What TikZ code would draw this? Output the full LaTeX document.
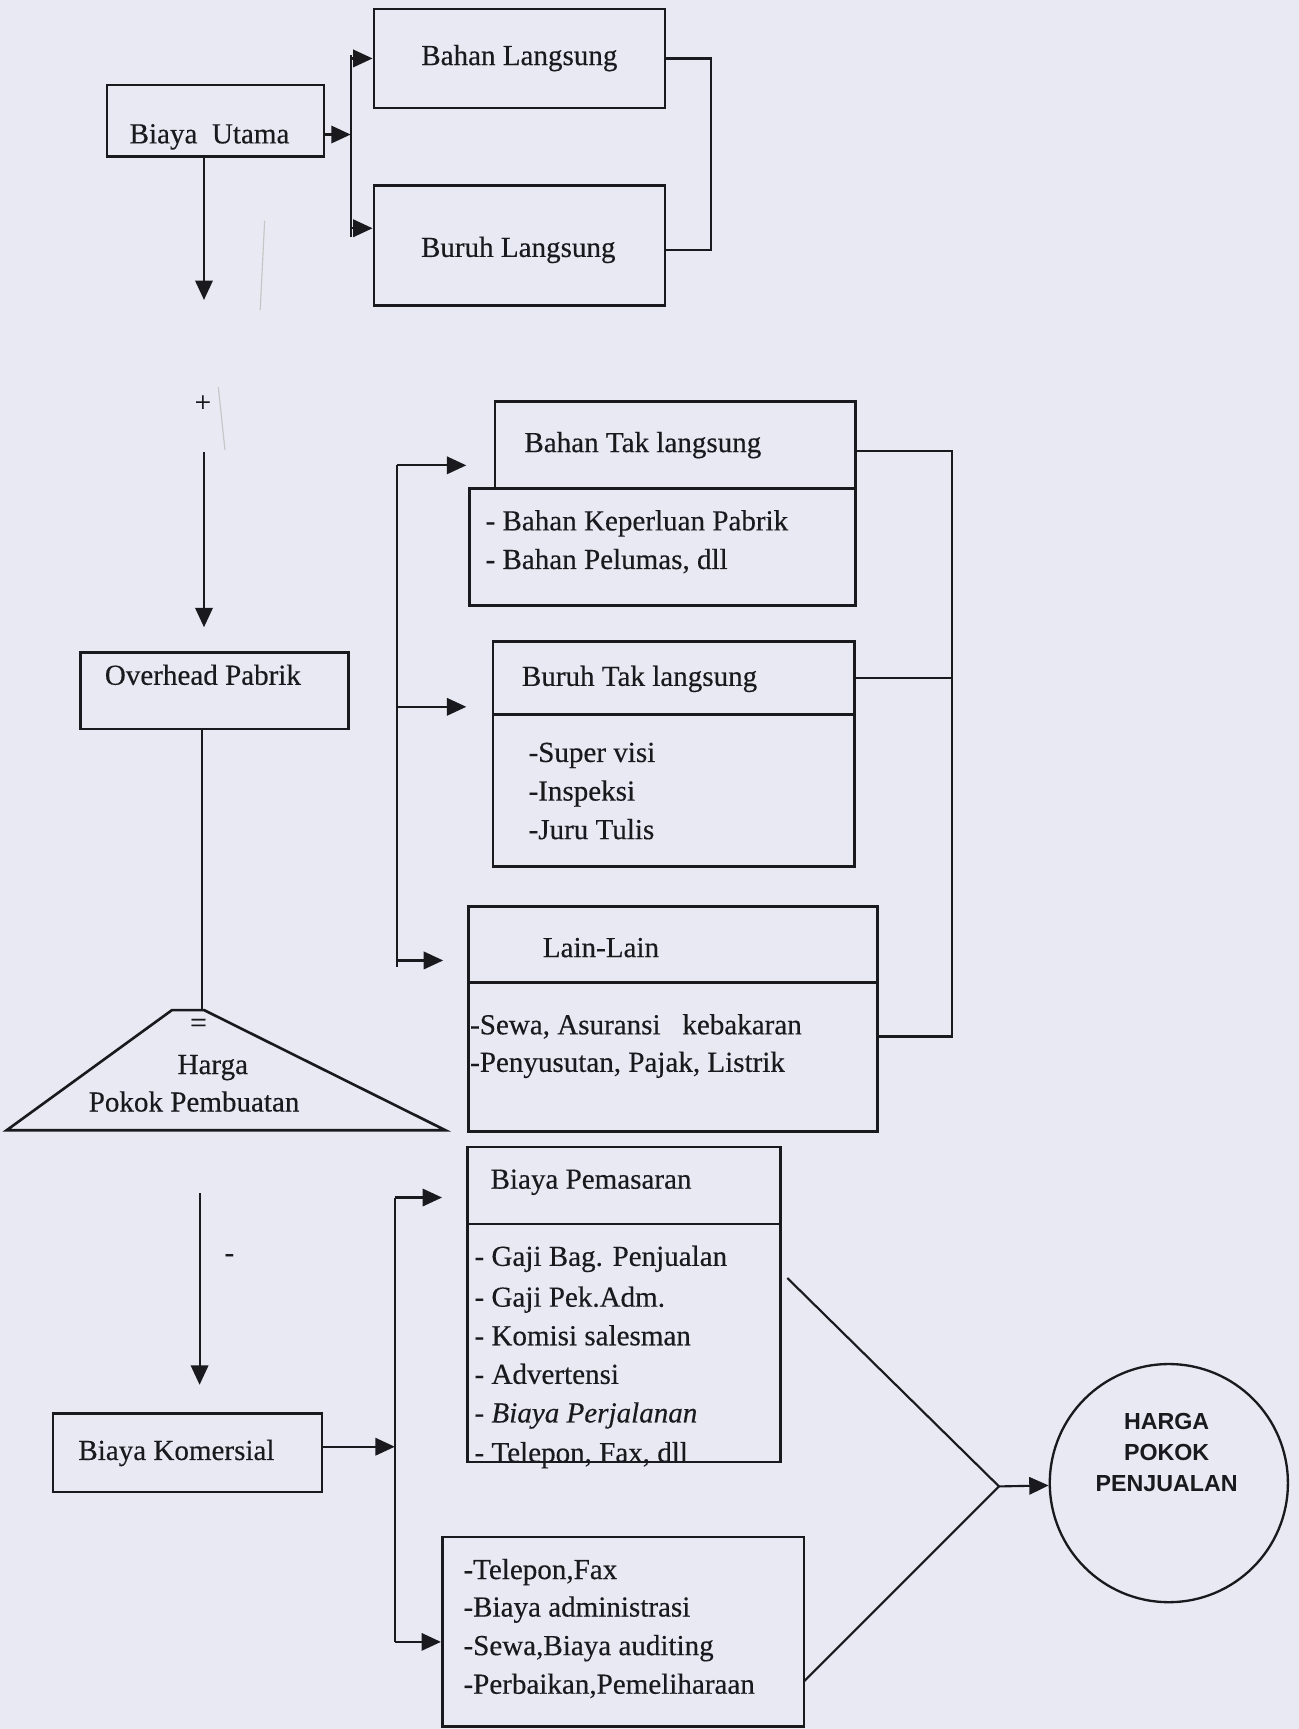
\documentclass[tikz,border=0pt]{standalone}
\usepackage{fontspec}
\setmainfont{Liberation Serif}[FakeBold=0.35]
\setsansfont{Liberation Sans}
\usetikzlibrary{arrows.meta}
\definecolor{bgc}{RGB}{233,233,243}
\definecolor{ink}{RGB}{25,25,30}
\begin{document}
\begin{tikzpicture}[x=0.02cm, y=-0.02cm,
  box/.style={draw=ink, line width=1.35pt, rectangle, inner sep=0pt},
  ln/.style={draw=ink, line width=1.1pt},
  arr/.style={draw=ink, line width=1.1pt, -{Triangle[length=10pt,width=9pt]}},
  txt/.style={inner sep=0pt, text=ink, font=\fontsize{15}{18}\selectfont},
  ctx/.style={txt, anchor=base},
  ltx/.style={txt, anchor=base west},
  pencil/.style={draw=gray!45, line width=0.6pt}]
\fill[bgc] (0,0) rectangle (1178,1568);
\useasboundingbox (0,0) rectangle (1178,1568);

% ---------- boxes ----------
\node[box, minimum width=3.94cm, minimum height=1.30cm] (bu) at (195.5,109.5) {};
\node[box, minimum width=5.28cm, minimum height=1.80cm] (bl) at (471,53) {};
\node[box, minimum width=5.28cm, minimum height=2.18cm] (brl) at (471,222.5) {};
\node[box, minimum width=4.86cm, minimum height=1.38cm] (op) at (194.5,626.5) {};
\node[box, minimum width=6.54cm, minimum height=1.58cm] (btl) at (612.5,403.5) {};
\node[box, minimum width=7.00cm, minimum height=2.12cm] (btll) at (601,496) {};
\node[box, minimum width=6.56cm, minimum height=1.32cm] (brtl) at (611,615) {};
\node[box, minimum width=6.56cm, minimum height=2.76cm] (brtll) at (611,717) {};
\node[box, minimum width=7.42cm, minimum height=1.38cm] (ll) at (610.5,856.5) {};
\node[box, minimum width=7.42cm, minimum height=2.70cm] (lll) at (610.5,958.5) {};
\node[box, minimum width=5.68cm, minimum height=1.40cm] (bp) at (566,1075) {};
\node[box, minimum width=5.68cm, minimum height=4.32cm] (bpl) at (566,1218) {};
\node[box, minimum width=6.56cm, minimum height=3.44cm] (ot) at (565,1480) {};
\node[box, minimum width=4.88cm, minimum height=1.42cm] (bk) at (170,1317.5) {};
\node[draw=ink, line width=1.2pt, circle, minimum size=4.32cm, inner sep=0pt] (hpp) at (1060,1345) {};

% triangle
\coordinate (ta) at (6,1025);
\coordinate (tb) at (156,916);
\coordinate (tc) at (185,916);
\coordinate (td) at (404,1025);
\draw[ink, line width=1.35pt, line join=miter] (ta) -- (tb) -- (tc) -- (td) -- cycle;

% ---------- texts ----------
\node[ctx] (t-bu) at (190,130) {Biaya\ \ Utama};
\node[ctx] (t-bl) at (471,59) {Bahan Langsung};
\node[ctx] (t-brl) at (470,233) {Buruh Langsung};
\node[ctx] (t-op) at (184,621) {Overhead Pabrik};
\node[ctx] (t-btl) at (583,410) {Bahan Tak langsung};
\node[ltx] (t-btl1) at (440,481) {- Bahan Keperluan Pabrik};
\node[ltx] (t-btl2) at (440,516) {- Bahan Pelumas, dll};
\node[ctx] (t-brtl) at (580,622) {Buruh Tak langsung};
\node[ltx] (t-brtl1) at (479,691) {-Super visi};
\node[ltx] (t-brtl2) at (479,726) {-Inspeksi};
\node[ltx] (t-brtl3) at (479,761) {-Juru Tulis};
\node[ctx] (t-ll) at (545,868) {Lain-Lain};
\node[ltx] (t-ll1) at (426,938) {-Sewa, Asuransi\ \ \ kebakaran};
\node[ltx] (t-ll2) at (426,972) {-Penyusutan, Pajak, Listrik};
\node[ctx] (t-eq) at (180,936) {=};
\node[ctx] (t-h1) at (193,974) {Harga};
\node[ctx] (t-h2) at (176,1008) {Pokok Pembuatan};
\node[ctx] (t-bp) at (536,1078) {Biaya Pemasaran};
\node[ltx] (t-bp1) at (430,1148) {- Gaji Bag. Penjualan};
\node[ltx] (t-bp2) at (430,1185) {- Gaji Pek.Adm.};
\node[ltx] (t-bp3) at (430,1220) {- Komisi salesman};
\node[ltx] (t-bp4) at (430,1255) {- Advertensi};
\node[ltx] (t-bp5) at (430,1290) {- \textit{Biaya Perjalanan}};
\node[ltx] (t-bp6) at (430,1326) {- Telepon, Fax, dll};
\node[ltx] (t-ot1) at (420,1432) {-Telepon,Fax};
\node[ltx] (t-ot2) at (420,1466) {-Biaya administrasi};
\node[ltx] (t-ot3) at (420,1501) {-Sewa,Biaya auditing};
\node[ltx] (t-ot4) at (420,1536) {-Perbaikan,Pemeliharaan};
\node[ctx] (t-bk) at (160,1324) {Biaya Komersial};
\node[txt] (t-plus) at (184,366) {+};
\node[txt] (t-minus) at (208,1141) {-};
\node[inner sep=0pt, text=ink, align=center,
      font=\sffamily\bfseries\fontsize{12}{15.9}\selectfont] (t-hpp) at (1058,1317) {HARGA\\POKOK\\PENJUALAN};

% ---------- connectors: top ----------
\coordinate (a0) at (318,122);
\coordinate (a1) at (318,50);
\coordinate (a2) at (318,207);
\coordinate (a3) at (318,215);
\draw[ln] (a1) -- (a3);
\draw[arr] (a0 -| bu.east) -- (a0);
\draw[arr] (a1 |- bl.west) -- (bl.west);
\draw[arr] (a2) -- (a2 -| brl.west);

\coordinate (k1) at (645,53);
\coordinate (k2) at (645,227);
\draw[ln] (k1 -| bl.east) -- (k1) -- (k2) -- (k2 -| brl.east);

\coordinate (v1) at (185,272);
\draw[arr] (v1 |- bu.south) -- (v1);
\coordinate (v2) at (185,410);
\draw[arr, shorten >=0.44cm] (v2) -- (v2 |- op.north);

% ---------- connectors: middle ----------
\coordinate (c1) at (360,422);
\coordinate (c2) at (360,641);
\coordinate (c3) at (360,871);
\coordinate (c4) at (360,877);
\draw[ln] (c1) -- (c4);
\draw[arr, shorten >=0.50cm] (c1) -- (c1 -| btl.west);
\draw[arr, shorten >=0.46cm] (c2) -- (c2 -| brtl.west);
\draw[arr, shorten >=0.44cm] (c3) -- (c3 -| ll.west);

\coordinate (m1) at (863,409);
\coordinate (m2) at (863,615);
\coordinate (m3) at (863,940);
\draw[ln] (m1 -| btl.east) -- (m1) -- (m3) -- (m3 -| ll.east);
\draw[ln] (m2 -| brtl.east) -- (m2);

\coordinate (v3) at (183,916);
\draw[ln] (v3 |- op.south) -- (v3);

% ---------- connectors: bottom ----------
\coordinate (v4) at (181,1082);
\draw[arr, shorten >=0.50cm] (v4) -- (v4 |- bk.north);

\coordinate (d1) at (358,1086);
\coordinate (d2) at (358,1489);
\coordinate (d3) at (358,1312);
\draw[ln] (d1) -- (d2);
\draw[arr, shorten >=0.44cm] (d1) -- (d1 -| bp.west);
\draw[arr] (d2) -- (d2 -| ot.west);
\draw[arr] (d3 -| bk.east) -- (d3);

\coordinate (j1) at (714,1159);
\coordinate (j2) at (729,1525);
\coordinate (jn) at (906,1348);
\draw[ln] (j1) -- (jn) -- (j2);
\draw[arr] (jn) -- (hpp);

% faint pencil marks
\draw[pencil] (240,200) -- (236,281);
\draw[pencil] (198,351) -- (204,408);
\end{tikzpicture}
\end{document}
